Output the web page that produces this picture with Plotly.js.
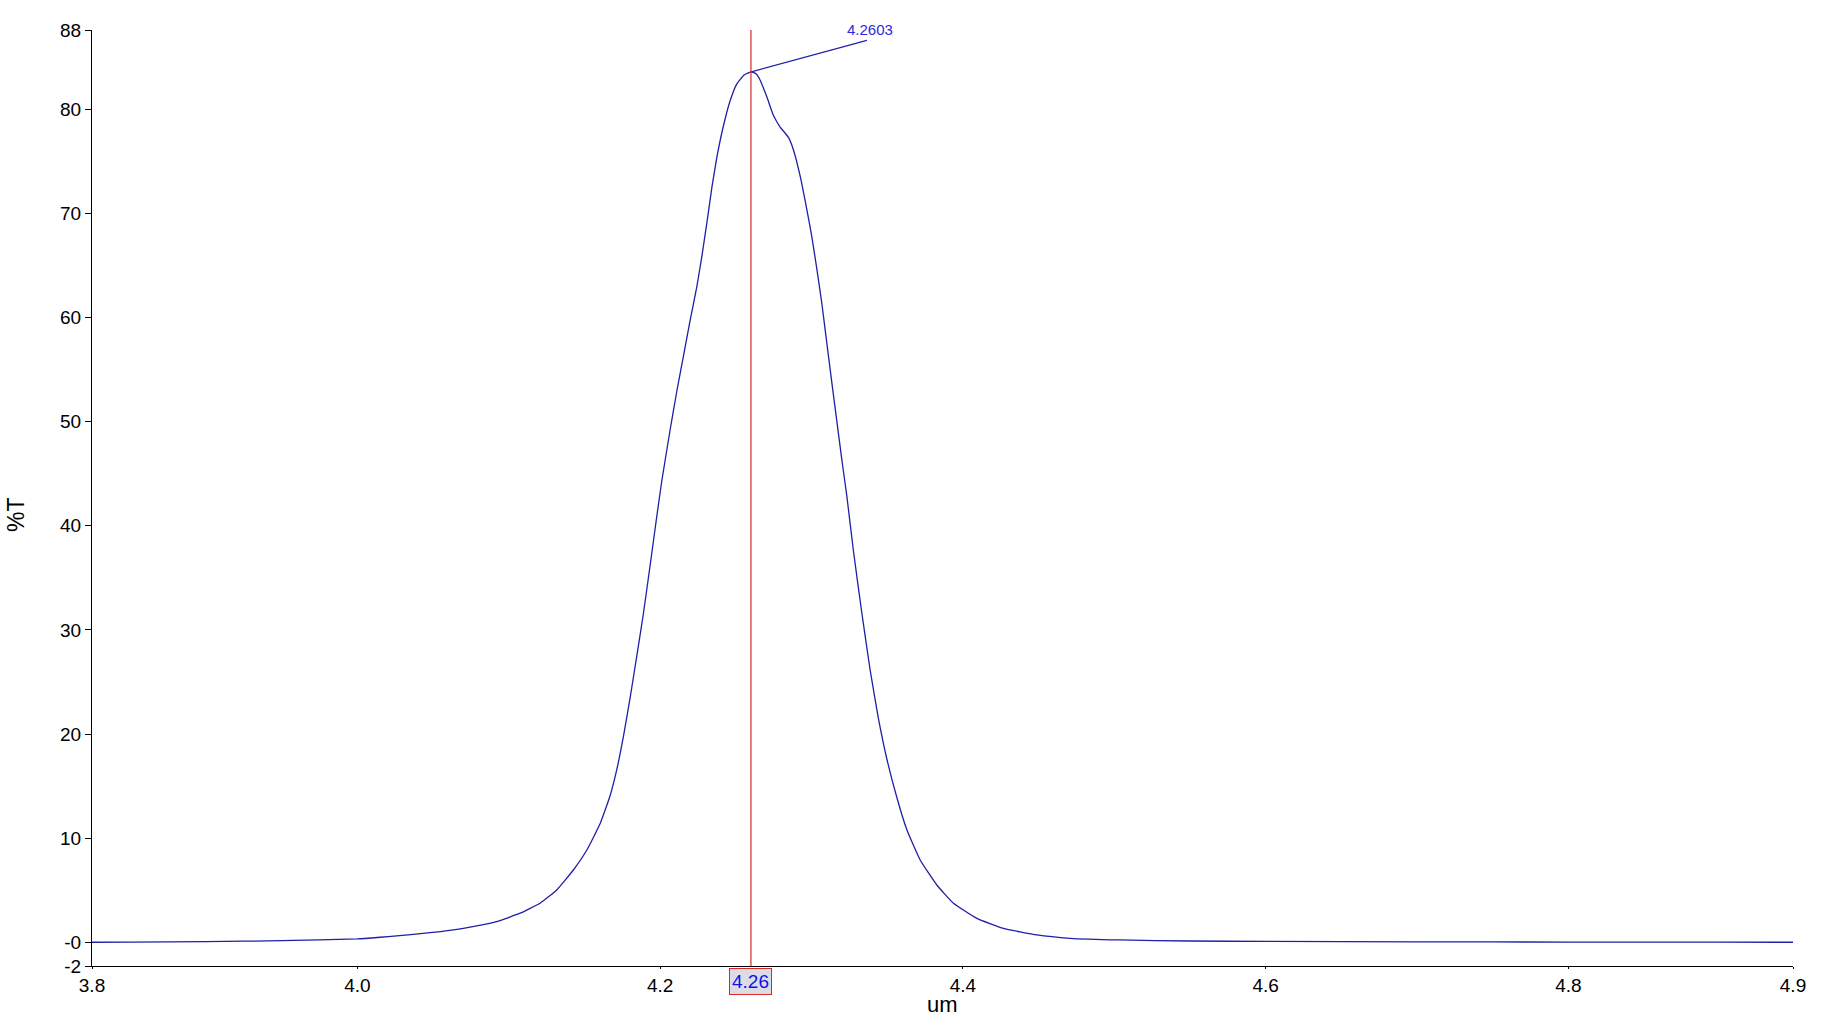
<!DOCTYPE html>
<html>
<head>
<meta charset="utf-8">
<script src="https://cdn.plot.ly/plotly-3.0.1.min.js"></script>
<style>
html, body { margin: 0; padding: 0; background: #ffffff; }
#chart { width: 1844px; height: 1018px; }
</style>
</head>
<body>
<div id="chart"></div>
<script>
// Wavelength (um)
const wavelength = [3.8247, 3.85, 3.90, 3.95, 4.00, 4.015, 4.026, 4.048, 4.070, 4.092, 4.1075, 4.1207, 4.1317,
  4.1427, 4.1516, 4.1604, 4.167, 4.1714, 4.1758, 4.1802, 4.1846, 4.189, 4.1934, 4.1978, 4.2011, 4.2066,
  4.211, 4.2154, 4.2198, 4.2243, 4.2276, 4.2309, 4.2342, 4.2375, 4.2418, 4.2462, 4.2505, 4.2555, 4.2603,
  4.2635, 4.2661, 4.2705, 4.2749, 4.2793, 4.2848, 4.2881, 4.2925, 4.2969, 4.3002, 4.3035, 4.3068, 4.3101,
  4.3134, 4.3167, 4.32, 4.3234, 4.3277, 4.3333, 4.3387, 4.3442, 4.3498, 4.3564, 4.363, 4.3718, 4.3828,
  4.3938, 4.4092, 4.4268, 4.4489, 4.4709, 4.5039, 4.55, 4.6, 4.7, 4.8, 4.9, 4.9484];
// Transmittance (%T)
const transmittance = [0.0, 0.02, 0.06, 0.15, 0.32, 0.48, 0.61, 0.92, 1.34, 1.98, 2.79, 3.75, 5.02,
  6.94, 8.86, 11.4, 14.1, 16.6, 19.8, 23.5, 27.5, 31.6, 36.2, 40.9, 44.3, 49.2,
  52.9, 56.3, 59.7, 63.0, 65.9, 69.1, 72.5, 75.4, 78.4, 80.8, 82.4, 83.3, 83.6,
  83.4, 82.8, 81.2, 79.4, 78.3, 77.3, 76.1, 73.6, 70.4, 67.8, 64.7, 61.4, 57.6,
  53.8, 50.1, 46.4, 42.8, 37.6, 31.6, 26.2, 21.5, 17.6, 13.9, 10.8, 7.9, 5.5,
  3.75, 2.30, 1.34, 0.70, 0.38, 0.22, 0.12, 0.08, 0.04, 0.02, 0.01, 0.0];

// Axis ranges and tick labels
const xRange = [3.8247, 4.9484];
const yRange = [-2.28, 87.62];
const xTickVals = [3.8247, 4.0, 4.2, 4.4, 4.6, 4.8, 4.9484];
const xTickText = ["3.8", "4.0", "4.2", "4.4", "4.6", "4.8", "4.9"];
const yTickVals = [-2.28, 0, 10, 20, 30, 40, 50, 60, 70, 80, 87.62];
const yTickText = ["-2", "-0", "10", "20", "30", "40", "50", "60", "70", "80", "88"];

// Axis titles
const xTitle = "um";
const yTitle = "%T";

// Cursor and peak label
const cursorX = 4.26;
const cursorLabel = "4.26";
const peakX = 4.2603;
const peakY = 83.6;
const peakLabel = "4.2603";

const FONT = "Liberation Sans, Arial, sans-serif";
const CURVE = "#1f1fa8";

const traces = [{
  x: wavelength,
  y: transmittance,
  type: "scatter",
  mode: "lines",
  line: { color: CURVE, width: 1.3, shape: "spline", smoothing: 0.4 },
  hoverinfo: "x+y",
  showlegend: false
}];

const layout = {
  width: 1844,
  height: 1018,
  margin: { l: 92, r: 51, t: 30, b: 52, pad: 0 },
  paper_bgcolor: "#ffffff",
  plot_bgcolor: "#ffffff",
  font: { family: FONT, color: "#000000", size: 19 },
  showlegend: false,
  xaxis: {
    range: xRange,
    tickmode: "array",
    tickvals: xTickVals,
    ticktext: xTickText,
    ticks: "outside",
    ticklen: 2,
    tickwidth: 1,
    tickcolor: "#000000",
    showline: true,
    linecolor: "#000000",
    linewidth: 1,
    showgrid: false,
    zeroline: false,
    tickfont: { family: FONT, size: 19, color: "#000000" },
    title: { text: "" },
    automargin: false
  },
  yaxis: {
    range: yRange,
    tickmode: "array",
    tickvals: yTickVals,
    ticktext: yTickText,
    ticks: "outside",
    ticklen: 6,
    tickwidth: 1,
    tickcolor: "#000000",
    showline: true,
    linecolor: "#000000",
    linewidth: 1,
    showgrid: false,
    zeroline: false,
    tickfont: { family: FONT, size: 19, color: "#000000" },
    title: { text: "" },
    automargin: false
  },
  shapes: [{
    type: "line",
    xref: "x", yref: "paper",
    x0: cursorX, x1: cursorX, y0: 0, y1: 1,
    line: { color: "#d42a2a", width: 1.2 }
  }],
  annotations: [
    // x-axis title, sitting on the bottom edge of the figure
    {
      x: 0.5, y: -52 / 936, xref: "paper", yref: "paper",
      xanchor: "center", yanchor: "bottom",
      text: xTitle, showarrow: false, borderpad: 0,
      font: { family: FONT, size: 22, color: "#000000" }
    },
    // y-axis title (rotated, slightly below plot centre like the reference)
    {
      x: -0.0447, y: 0.483, xref: "paper", yref: "paper",
      xanchor: "center", yanchor: "middle",
      text: yTitle, textangle: -90, showarrow: false,
      font: { family: FONT, size: 23, color: "#000000" }
    },
    // leader line from peak
    {
      x: peakX, y: peakY, xref: "x", yref: "y",
      text: "",
      showarrow: true, arrowhead: 0, arrowwidth: 1.3, arrowcolor: CURVE,
      ax: 117, ay: -32, standoff: 0, startstandoff: 0
    },
    // peak label text
    {
      x: peakX, y: peakY, xref: "x", yref: "y",
      text: peakLabel, showarrow: false,
      xanchor: "center", yanchor: "middle",
      xshift: 119, yshift: 42,
      font: { family: FONT, size: 15, color: "#2a2ae0" }
    },
    // cursor readout box
    {
      x: cursorX, y: -0.0168, xref: "x", yref: "paper",
      xanchor: "center", yanchor: "middle",
      text: cursorLabel,
      showarrow: false,
      font: { family: FONT, size: 19, color: "#1010e8" },
      bgcolor: "#dcdce6",
      bordercolor: "#d42a2a",
      borderwidth: 1,
      borderpad: 2
    }
  ]
};

Plotly.newPlot("chart", traces, layout, { displayModeBar: false, staticPlot: true });
</script>
</body>
</html>
